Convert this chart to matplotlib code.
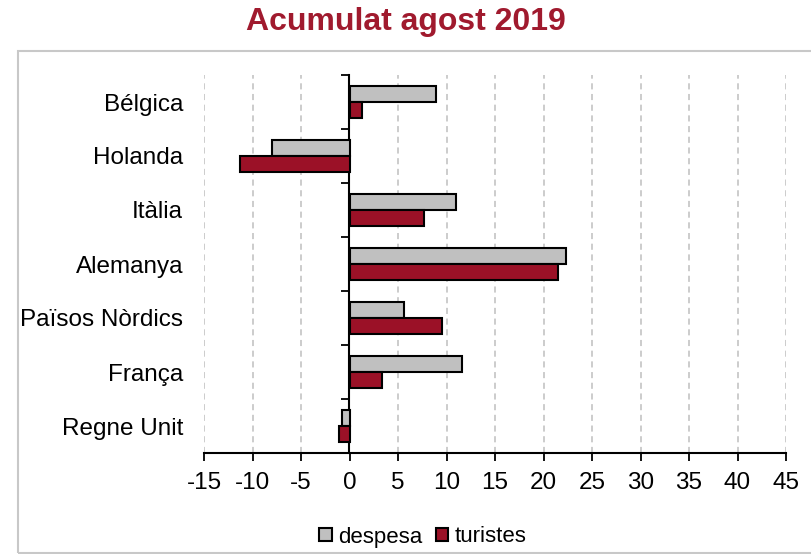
import matplotlib
matplotlib.use("Agg")
import matplotlib.pyplot as plt
from matplotlib.patches import Rectangle
import numpy as np

# dades llegides del gràfic (variació %, acumulat agost 2019)
PAISOS = ["Bélgica", "Holanda", "Itàlia", "Alemanya", "Països Nòrdics",
          "França", "Regne Unit"]
DESPESA = [8.9, -8.0, 11.0, 22.3, 5.6, 11.6, -0.8]
TURISTES = [1.3, -11.3, 7.7, 21.5, 9.5, 3.3, -1.1]
XTICKS = list(range(-15, 50, 5))

GRIS = "#c0c0c0"
VERMELL = "#9b1127"
TITOL = "#a01a2e"
VORA = "#c8c8c8"
RACS = "#bfbfbf"

plt.rcParams["font.family"] = ["Liberation Sans", "DejaVu Sans"]

fig = plt.figure(figsize=(8.11, 5.54), dpi=100, facecolor="white")
ax = fig.add_axes([204 / 811, 1 - 453 / 554, 582 / 811, 378 / 554])

y = np.arange(len(PAISOS))
alt = 0.29
ax.barh(y - alt / 2, DESPESA, height=alt, color=GRIS, edgecolor="black",
        linewidth=1.5, label="despesa", zorder=3)
ax.barh(y + alt / 2, TURISTES, height=alt, color=VERMELL, edgecolor="black",
        linewidth=1.5, label="turistes", zorder=3)

ax.set_xlim(-15, 45)
ax.set_ylim(len(PAISOS) - 0.5, -0.5)
ax.set_xticks(XTICKS)
ax.set_xticklabels([str(v) for v in XTICKS])
ax.set_yticks(y)
ax.set_yticklabels(PAISOS)
ax.tick_params(axis="y", length=0, pad=15, labelsize=17.5)
ax.tick_params(axis="x", length=6, width=1.3, direction="out", pad=8,
               labelsize=17.5)

for v in XTICKS:
    if v != 0:
        ax.axvline(v, color=RACS, linestyle=(0, (4, 3)), linewidth=1.1,
                   zorder=1)

for costat in ("top", "right", "left"):
    ax.spines[costat].set_visible(False)
ax.spines["bottom"].set_linewidth(1.5)

# eix del zero amb marques entre categories
eix0 = ax.secondary_yaxis(15 / 60)
eix0.set_yticks(np.arange(-0.5, len(PAISOS), 1.0))
eix0.set_yticklabels([])
eix0.tick_params(length=6, width=1.3, direction="out")
eix0.spines["left"].set_linewidth(1.5)

fig.text(0.5, 1 - 22 / 554, "Acumulat agost 2019", ha="center",
         va="center", fontsize=23, fontweight="bold", color=TITOL)

fig.patches.append(Rectangle((18 / 811, 1 - 553 / 554), 1.0,
                             (553 - 51) / 554, transform=fig.transFigure,
                             fill=False, edgecolor=VORA, linewidth=1.5))

fig.legend(loc="center", bbox_to_anchor=(423 / 811, 1 - 537 / 554),
           ncol=2, frameon=False, fontsize=16, handlelength=0.55,
           handleheight=0.55, handletextpad=0.3, columnspacing=0.6)

fig.savefig("out.png", dpi=100, facecolor="white")
